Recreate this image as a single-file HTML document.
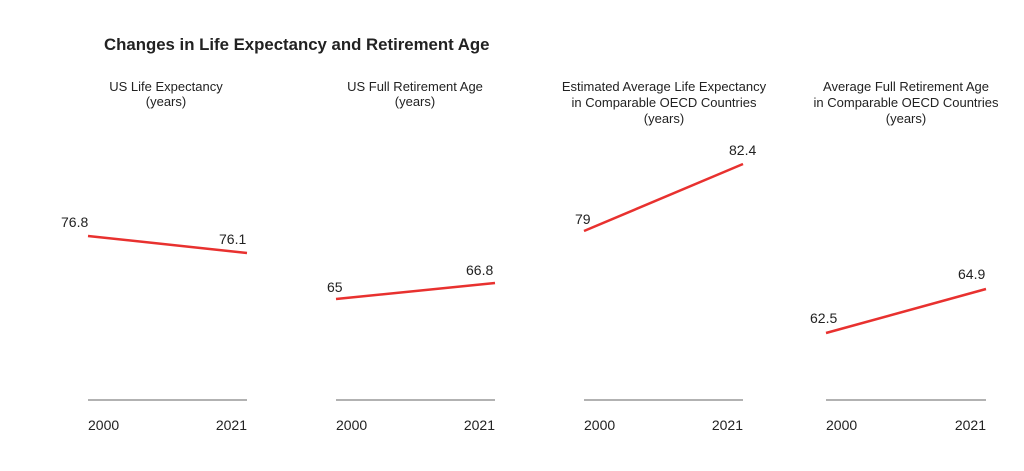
<!DOCTYPE html>
<html><head><style>
body{margin:0;background:#fff;}
svg text{font-family:"Liberation Sans",sans-serif;fill:#222;}
</style></head><body>
<svg width="1024" height="466" xmlns="http://www.w3.org/2000/svg">
<text x="104" y="50" font-size="16.8" font-weight="bold">Changes in Life Expectancy and Retirement Age</text>
<g font-size="13" text-anchor="middle">
<text x="166" y="91">US Life Expectancy</text><text x="166" y="106">(years)</text>
<text x="415" y="91">US Full Retirement Age</text><text x="415" y="106">(years)</text>
<text x="664" y="91">Estimated Average Life Expectancy</text><text x="664" y="107">in Comparable OECD Countries</text><text x="664" y="123">(years)</text>
<text x="906" y="91">Average Full Retirement Age</text><text x="906" y="107">in Comparable OECD Countries</text><text x="906" y="123">(years)</text>
</g>
<g stroke="#999" stroke-width="1.5">
<line x1="88" y1="400" x2="247" y2="400"/><line x1="336" y1="400" x2="495" y2="400"/>
<line x1="584" y1="400" x2="743" y2="400"/><line x1="826" y1="400" x2="986" y2="400"/>
</g>
<g stroke="#e8312f" stroke-width="2.5" fill="none">
<line x1="88" y1="236" x2="247" y2="253"/><line x1="336" y1="299" x2="495" y2="283"/>
<line x1="584" y1="231" x2="743" y2="164"/><line x1="826" y1="333" x2="986" y2="289"/>
</g>
<g font-size="14">
<text x="61" y="227">76.8</text><text x="219" y="244">76.1</text>
<text x="327" y="292">65</text><text x="466" y="275">66.8</text>
<text x="575" y="224">79</text><text x="729" y="155">82.4</text>
<text x="810" y="323">62.5</text><text x="958" y="279">64.9</text>
</g>
<g font-size="14">
<text x="88" y="430">2000</text><text x="247" y="430" text-anchor="end">2021</text>
<text x="336" y="430">2000</text><text x="495" y="430" text-anchor="end">2021</text>
<text x="584" y="430">2000</text><text x="743" y="430" text-anchor="end">2021</text>
<text x="826" y="430">2000</text><text x="986" y="430" text-anchor="end">2021</text>
</g>
</svg>
</body></html>
